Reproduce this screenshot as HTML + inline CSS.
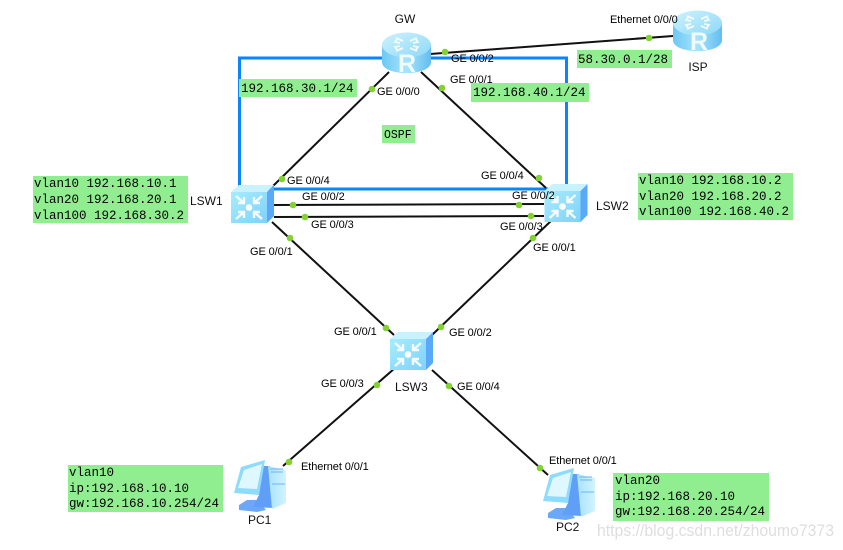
<!DOCTYPE html>
<html>
<head>
<meta charset="utf-8">
<style>
html,body{margin:0;padding:0;background:#fff;width:843px;height:550px;overflow:hidden}
svg{display:block}
.l{font:11px "Liberation Sans",sans-serif;fill:#000;letter-spacing:-.1px}
.n{font:12px "Liberation Sans",sans-serif;fill:#111}
.m{font:12.5px "Liberation Mono",monospace;fill:#000}
.c{stroke:#111;stroke-width:2;fill:none}
.d{fill:#82d232}
.g{fill:#90ee90}
.r{font-family:"Liberation Sans",sans-serif;font-size:25px;font-weight:bold;fill:#eefbff}
</style>
</head>
<body>
<svg width="843" height="550" viewBox="0 0 843 550" xmlns="http://www.w3.org/2000/svg">
<defs>
<linearGradient id="rb" x1="0" x2="1" y1="0" y2="0">
<stop offset="0" stop-color="#6cc8f4"/><stop offset=".5" stop-color="#a8e4fb"/><stop offset="1" stop-color="#62bdf0"/>
</linearGradient>
<linearGradient id="rt" x1="0" x2="1" y1="0" y2="1">
<stop offset="0" stop-color="#cdf2fe"/><stop offset="1" stop-color="#8ed8f8"/>
</linearGradient>
<linearGradient id="sf" x1="0" x2="1" y1="0" y2="1">
<stop offset="0" stop-color="#a6ecfd"/><stop offset="1" stop-color="#7fd2fb"/>
</linearGradient>
<linearGradient id="tw" x1="0" x2="1" y1="0" y2="0">
<stop offset="0" stop-color="#a8e2fe"/><stop offset="1" stop-color="#d2f3ff"/>
</linearGradient>
<g id="router">
<path d="M0 13V30C0 37 11 41 24.500 41S49 37 49 30V13Z" fill="url(#rb)"/>
<ellipse cx="24.500" cy="13" rx="24.500" ry="12.500" fill="url(#rt)"/>
<g stroke="#fff" stroke-width="1.800" fill="none" opacity=".85">
<path d="M14 6l7 3M18 11l-5-1 3-4"/>
<path d="M35 6l-7 3M31 11l5-1-3-4"/>
<path d="M14 19l7-3M18 14l-5 1 3 4"/>
<path d="M35 19l-7-3M31 14l5 1-3 4"/>
</g>
</g>
<g id="switch">
<path d="M0 7L8 0H43L36 7Z" fill="#c8f3fe"/>
<path d="M36 7L43 0V31L36 38Z" fill="#5aa8f8"/>
<rect x="0" y="7" width="36" height="31" fill="url(#sf)"/>
<circle cx="18" cy="22.500" r="3.300" fill="#fff"/>
<g stroke="#fff" stroke-width="2.400" fill="none" opacity=".92">
<path d="M5 11L13 18M13 12V18H7"/>
<path d="M31 11L23 18M23 12V18H29"/>
<path d="M5 34L13 27M13 33V27H7"/>
<path d="M31 34L23 27M23 33V27H29"/>
</g>
</g>
<g id="pc">
<path d="M6 44L14 39H25L33 49L24 51L6 49Z" fill="#6ba9f8"/>
<path d="M30 5L37 5L40 47L20 46L26 34Z" fill="#5f9ff8"/>
<path d="M35 5L53 9V42L39 48Z" fill="url(#tw)"/>
<path d="M37 8H50M38 11H50M39 23H52" stroke="#6db5f4" stroke-width="1"/>
<path d="M8 6L32 -1L26 34L1 32Z" fill="#8ddcfd"/>
<path d="M11 9L29 3L24 28L5 27Z" fill="#dff7ff"/>
</g>
</defs>

<rect x="239.500" y="58" width="327" height="131" fill="none" stroke="#0a84ff" stroke-width="3"/>

<path class="c" d="M430 54L673 36"/>
<path class="c" d="M389 72L272 187"/>
<path class="c" d="M421 72L546 188"/>
<path class="c" d="M274 205L544 204"/>
<path class="c" d="M274 217L544 216"/>
<path class="c" d="M272 222L394 335"/>
<path class="c" d="M552 220L432 335"/>
<path class="c" d="M395 368L283 466"/>
<path class="c" d="M432 370L548 475"/>

<use href="#router" x="382" y="32"/>
<text class="r" x="407" y="72" text-anchor="middle">R</text>
<use href="#router" x="673" y="10"/>
<text class="r" x="699" y="50" text-anchor="middle">R</text>

<use href="#switch" x="231" y="185"/>
<use href="#switch" x="544.500" y="184"/>
<use href="#switch" x="390" y="332"/>
<use href="#pc" x="233" y="461"/>
<use href="#pc" x="542" y="469"/>

<circle class="d" cx="445" cy="52" r="3.300"/>
<circle class="d" cx="649" cy="38" r="3.300"/>
<circle class="d" cx="372" cy="89" r="3.300"/>
<circle class="d" cx="442" cy="88" r="3.300"/>
<circle class="d" cx="282" cy="179" r="3.300"/>
<circle class="d" cx="293" cy="205" r="3.300"/>
<circle class="d" cx="305" cy="217" r="3.300"/>
<circle class="d" cx="290" cy="238" r="3.300"/>
<circle class="d" cx="539" cy="178" r="3.300"/>
<circle class="d" cx="519" cy="205" r="3.300"/>
<circle class="d" cx="531" cy="216" r="3.300"/>
<circle class="d" cx="533" cy="238" r="3.300"/>
<circle class="d" cx="386" cy="328" r="3.300"/>
<circle class="d" cx="441" cy="327" r="3.300"/>
<circle class="d" cx="377" cy="385" r="3.300"/>
<circle class="d" cx="449" cy="386" r="3.300"/>
<circle class="d" cx="289" cy="462" r="3.300"/>
<circle class="d" cx="540" cy="468" r="3.300"/>

<rect class="g" x="239" y="79" width="118" height="18"/>
<text class="m" x="241" y="92">192.168.30.1/24</text>
<rect class="g" x="471" y="83" width="118" height="19"/>
<text class="m" x="473" y="96">192.168.40.1/24</text>
<rect class="g" x="577" y="50" width="95" height="18"/>
<text class="m" x="578" y="63">58.30.0.1/28</text>
<rect class="g" x="382" y="125" width="33" height="18"/>
<text class="m" x="384" y="138" style="font-size:11.500px">OSPF</text>

<rect class="g" x="33" y="176" width="155" height="47"/>
<text class="m" x="34" y="187">vlan10 192.168.10.1</text>
<text class="m" x="34" y="203">vlan20 192.168.20.1</text>
<text class="m" x="34" y="219">vlan100 192.168.30.2</text>

<rect class="g" x="638" y="173" width="155" height="47"/>
<text class="m" x="639" y="184">vlan10 192.168.10.2</text>
<text class="m" x="639" y="200">vlan20 192.168.20.2</text>
<text class="m" x="639" y="215">vlan100 192.168.40.2</text>

<rect class="g" x="68" y="465" width="155" height="47"/>
<text class="m" x="69" y="476">vlan10</text>
<text class="m" x="69" y="492">ip:192.168.10.10</text>
<text class="m" x="69" y="507">gw:192.168.10.254/24</text>

<rect class="g" x="613" y="473" width="156" height="48"/>
<text class="m" x="615" y="484">vlan20</text>
<text class="m" x="615" y="500">ip:192.168.20.10</text>
<text class="m" x="615" y="515">gw:192.168.20.254/24</text>

<text class="n" x="405" y="23" text-anchor="middle">GW</text>
<text class="n" x="698" y="71" text-anchor="middle">ISP</text>
<text class="n" x="190" y="205">LSW1</text>
<text class="n" x="596" y="210">LSW2</text>
<text class="n" x="395" y="391">LSW3</text>
<text class="n" x="248" y="524">PC1</text>
<text class="n" x="556" y="531">PC2</text>

<text class="l" x="451" y="62">GE 0/0/2</text>
<text class="l" x="450" y="83">GE 0/0/1</text>
<text class="l" x="377" y="95">GE 0/0/0</text>
<text class="l" x="610" y="23">Ethernet 0/0/0</text>
<text class="l" x="287" y="184">GE 0/0/4</text>
<text class="l" x="302" y="200">GE 0/0/2</text>
<text class="l" x="311" y="228">GE 0/0/3</text>
<text class="l" x="250" y="255">GE 0/0/1</text>
<text class="l" x="481" y="179">GE 0/0/4</text>
<text class="l" x="512" y="199">GE 0/0/2</text>
<text class="l" x="500" y="230">GE 0/0/3</text>
<text class="l" x="533" y="251">GE 0/0/1</text>
<text class="l" x="334" y="335">GE 0/0/1</text>
<text class="l" x="449" y="336">GE 0/0/2</text>
<text class="l" x="321" y="387">GE 0/0/3</text>
<text class="l" x="457" y="390">GE 0/0/4</text>
<text class="l" x="301" y="470">Ethernet 0/0/1</text>
<text class="l" x="549" y="464">Ethernet 0/0/1</text>

<text x="597" y="536" font-family="Liberation Sans,sans-serif" font-size="17" fill="#dedede" textLength="237" lengthAdjust="spacingAndGlyphs">https://blog.csdn.net/zhoumo7373</text>
</svg>
</body>
</html>
